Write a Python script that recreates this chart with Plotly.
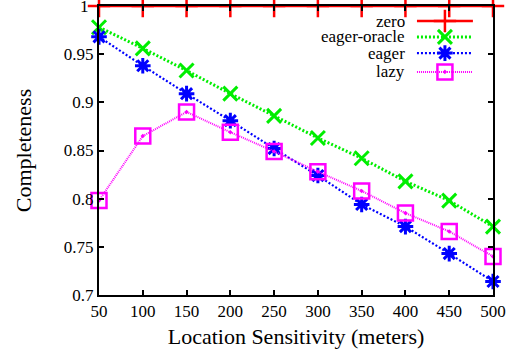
import plotly.graph_objects as go

sensitivity = [50, 100, 150, 200, 250, 300, 350, 400, 450, 500]
zero = [1.0, 1.0, 1.0, 1.0, 1.0, 1.0, 1.0, 1.0, 1.0, 1.0]
eager_oracle = [0.978, 0.956, 0.933, 0.909, 0.886, 0.863, 0.842, 0.818, 0.798, 0.771]
eager = [0.968, 0.938, 0.909, 0.881, 0.852, 0.824, 0.794, 0.771, 0.743, 0.714]
lazy = [0.798, 0.865, 0.890, 0.869, 0.849, 0.828, 0.808, 0.785, 0.766, 0.740]
y_ticks = [0.7, 0.75, 0.8, 0.85, 0.9, 0.95, 1.0]
y_tick_labels = ["0.7", "0.75", "0.8", "0.85", "0.9", "0.95", "1"]

series = [
    dict(name="zero", y=zero, color="#ff0000", dash="solid", width=2.5,
         symbol="cross-thin-open", size=16, mlw=2.5),
    dict(name="eager-oracle", y=eager_oracle, color="#00ee00", dash="2px,2px", width=3,
         symbol="x-thin-open", size=14, mlw=3),
    dict(name="eager", y=eager, color="#0000ff", dash="2px,2px", width=2.2,
         symbol="asterisk-open", size=13, mlw=3),
    dict(name="lazy", y=lazy, color="#ff00ff", dash="1px,1px", width=2,
         symbol="square-open-dot", size=15, mlw=2.5),
]

fig = go.Figure()
for s in series:
    fig.add_trace(go.Scatter(
        x=sensitivity, y=s["y"], mode="lines+markers", name=s["name"],
        line=dict(color=s["color"], width=s["width"], dash=s["dash"]),
        marker=dict(symbol=s["symbol"], size=s["size"], color=s["color"],
                    line=dict(color=s["color"], width=s["mlw"])),
        cliponaxis=False, showlegend=False,
    ))

# manual legend (text on the left, sample on the right)
leg_rows = [0.948, 0.893, 0.837, 0.772]
x_line0, x_mark, x_line1, x_text = 0.807, 0.878, 0.949, 0.782
annotations = []
for s, ly in zip(series, leg_rows):
    fig.add_trace(go.Scatter(
        x=[x_line0, x_line1], y=[ly, ly], mode="lines", xaxis="x2", yaxis="y2",
        line=dict(color=s["color"], width=s["width"], dash=s["dash"]),
        showlegend=False, hoverinfo="skip"))
    fig.add_trace(go.Scatter(
        x=[x_mark], y=[ly], mode="markers", xaxis="x2", yaxis="y2",
        marker=dict(symbol=s["symbol"], size=s["size"], color=s["color"],
                    line=dict(color=s["color"], width=s["mlw"])),
        showlegend=False, hoverinfo="skip"))
    annotations.append(dict(x=x_text, y=ly, xref="x2", yref="y2", text=s["name"],
                            showarrow=False, xanchor="right", yanchor="middle",
                            font=dict(size=17, color="black")))

# top tick label "1" (plotly hides it at the paper edge), drawn as annotation
annotations.append(dict(x=0, y=y_ticks[-1], xref="paper", yref="y", text=y_tick_labels[-1],
                        showarrow=False, xanchor="right", yanchor="middle", xshift=-8,
                        font=dict(size=17, color="black")))
shown_labels = y_tick_labels[:-1] + [""]

font = "Liberation Serif"
fig.update_layout(
    width=510, height=358,
    margin=dict(l=99, r=17, t=6, b=63),
    paper_bgcolor="white", plot_bgcolor="white",
    font=dict(family=font, size=17, color="black"),
    annotations=annotations,
    xaxis=dict(
        range=[50, 500], tickvals=sensitivity, ticks="inside", ticklen=5,
        tickwidth=1.5, tickcolor="black", showgrid=False, zeroline=False,
        showline=True, linecolor="black", linewidth=2, mirror="ticks",
        title=dict(text="Location Sensitivity (meters)", font=dict(size=22), standoff=8),
        tickfont=dict(size=17), automargin=False,
    ),
    yaxis=dict(
        range=[0.7, 1.0], tickvals=y_ticks, ticktext=shown_labels, ticks="inside",
        ticklen=5, tickwidth=1.5, tickcolor="black", showgrid=False, zeroline=False,
        showline=True, linecolor="black", linewidth=2, mirror="ticks",
        title=dict(text="Completeness", font=dict(size=22), standoff=26),
        tickfont=dict(size=17), automargin=False,
    ),
    xaxis2=dict(range=[0, 1], overlaying="x", visible=False, domain=[0, 1]),
    yaxis2=dict(range=[0, 1], overlaying="y", visible=False),
)

fig.write_html("out.html", config={"displayModeBar": False},
               post_script="document.body.style.margin='0';document.body.style.overflow='hidden';")
